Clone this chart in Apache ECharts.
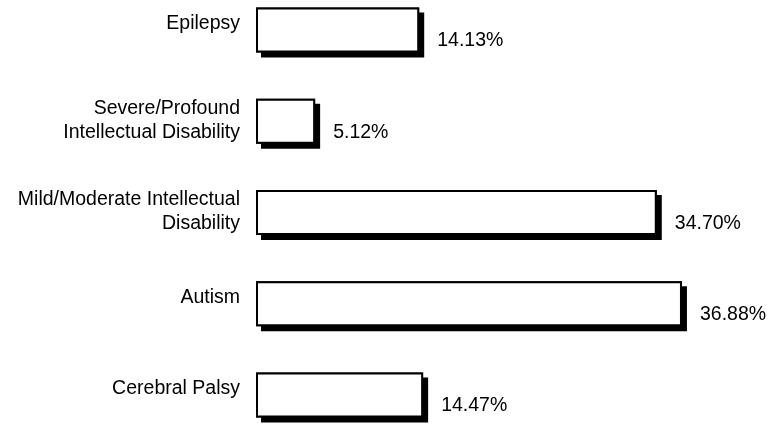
<!DOCTYPE html>
<html><head><meta charset="utf-8">
<script src="https://cdn.jsdelivr.net/npm/echarts@6/dist/echarts.min.js"></script>
<style>html,body{margin:0;padding:0;background:#fff}#c{width:783px;height:425px}</style>
</head><body><div id="c"></div>
<script>
const categories = ["Epilepsy", "Severe/Profound\nIntellectual Disability", "Mild/Moderate Intellectual\nDisability", "Autism", "Cerebral Palsy"];
const values = [14.13, 5.12, 34.70, 36.88, 14.47];
const valueLabels = ["14.13%", "5.12%", "34.70%", "36.88%", "14.47%"];

const FONT = '"Liberation Sans", Arial, sans-serif';
const chart = echarts.init(document.getElementById('c'), null, {renderer: 'canvas'});
const barStyleBase = {barWidth: 45, barGap: '-100%'};
chart.setOption({
  animation: false,
  backgroundColor: '#fff',
  grid: {left: 256, top: 30, height: 365, width: 462, containLabel: false},
  xAxis: {type: 'value', min: 0, max: 40, show: false},
  yAxis: {
    type: 'category', data: categories, inverse: true, boundaryGap: false,
    axisLine: {show: false}, axisTick: {show: false}, splitLine: {show: false},
    axisLabel: {
      margin: 16, align: 'right',
      formatter: v => {
        const lines = v.split('\n').map(s => '{a|' + s + '}');
        if (lines.length === 1) lines.push('{s| }');
        return lines.join('\n');
      },
      rich: {
        a: {color: '#000', fontFamily: FONT, fontSize: 19.5, lineHeight: 24, align: 'right'},
        s: {fontSize: 4, lineHeight: 10}
      },
      padding: [0, 0, 2, 0]
    }
  },
  series: [{
    type: 'bar', data: values, ...barStyleBase, silent: true,
    itemStyle: {color: '#000', shadowColor: '#000', shadowOffsetX: 5, shadowOffsetY: 5, shadowBlur: 0}
  }, {
    type: 'bar', data: values, ...barStyleBase,
    itemStyle: {color: '#fff', borderColor: '#000', borderWidth: 2},
    label: {show: true, position: 'right', distance: 18, offset: [0, 11], color: '#000', fontFamily: FONT, fontSize: 19.5,
      formatter: p => valueLabels[p.dataIndex]}
  }]
});
</script></body></html>
